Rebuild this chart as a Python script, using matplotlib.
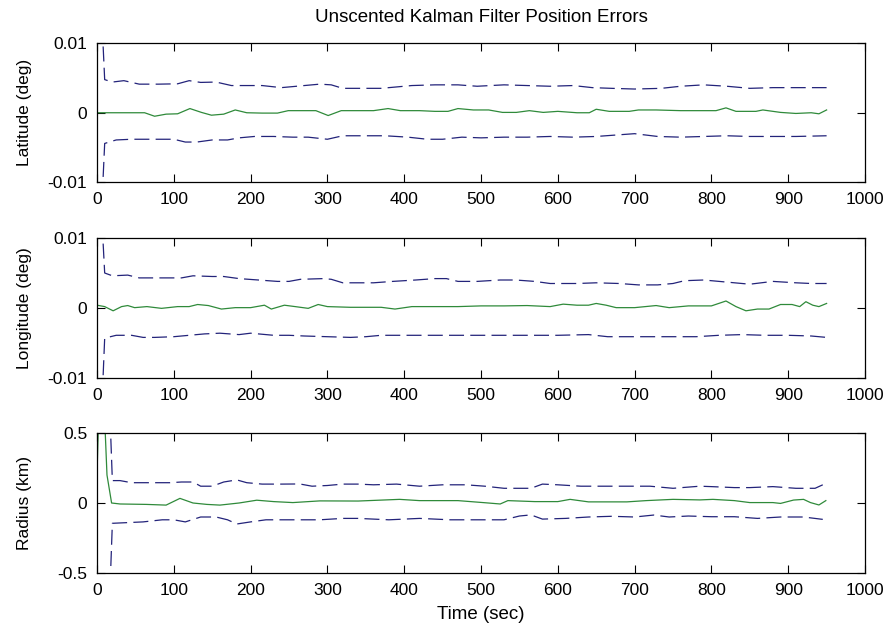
import matplotlib
matplotlib.use("Agg")
import matplotlib.pyplot as plt
import numpy as np

plt.rcParams['font.family'] = ['Liberation Sans', 'DejaVu Sans']

# ---------------- Latitude (deg) ----------------
lat_err_t = [0, 20, 40, 62, 75, 90, 105, 121, 136, 149, 165, 180, 195, 215, 235, 249,
             265, 285, 301, 318, 340, 360, 379, 395, 420, 440, 457, 470, 490, 510, 528,
             546, 563, 581, 600, 625, 641, 650, 667, 693, 705, 728, 760, 790, 806, 819,
             832, 858, 867, 890, 910, 930, 940, 950]
lat_err = [0, 0, 0, 0, -0.5, -0.2, -0.15, 0.6, 0.05, -0.35, -0.2, 0.4, 0, -0.05, -0.05, 0.3,
           0.3, 0.3, -0.4, 0.3, 0.3, 0.3, 0.6, 0.3, 0.3, 0.2, 0.2, 0.6, 0.4, 0.4, 0.05,
           0.05, 0.3, 0.05, 0.2, 0.0, 0.0, 0.5, 0.2, 0.2, 0.4, 0.4, 0.3, 0.3, 0.3, 0.7,
           0.2, 0.2, 0.4, 0.05, -0.1, 0.0, -0.15, 0.4]
lat_up_t = [8, 10, 20, 35, 55, 80, 105, 120, 135, 155, 175, 195, 215, 240, 265, 290, 305,
            320, 345, 370, 390, 410, 440, 470, 495, 530, 560, 590, 620, 645, 670, 700, 735,
            760, 790, 820, 850, 880, 910, 950]
lat_up = [9.5, 4.75, 4.4, 4.6, 4.1, 4.1, 4.15, 4.6, 4.35, 4.4, 3.9, 3.9, 3.9, 3.6, 3.85,
          4.1, 4.0, 3.5, 3.5, 3.5, 3.7, 3.9, 4.0, 4.0, 3.8, 4.0, 3.9, 3.8, 3.9, 3.6, 3.5,
          3.4, 3.5, 3.8, 4.0, 3.8, 3.5, 3.6, 3.6, 3.6]
lat_lo_t = [8, 10, 25, 45, 75, 100, 115, 130, 150, 170, 185, 205, 230, 255, 275, 300, 320,
            345, 375, 405, 430, 450, 475, 500, 530, 560, 590, 620, 650, 675, 700, 730, 760,
            790, 820, 850, 880, 910, 950]
lat_lo = [-9.2, -4.4, -3.9, -3.8, -3.8, -3.8, -4.2, -4.2, -3.9, -3.9, -3.6, -3.4, -3.4,
          -3.5, -3.5, -3.8, -3.3, -3.3, -3.3, -3.5, -3.8, -3.8, -3.5, -3.6, -3.5, -3.5,
          -3.4, -3.5, -3.4, -3.2, -3.0, -3.4, -3.5, -3.4, -3.3, -3.4, -3.4, -3.4, -3.3]

# ---------------- Longitude (deg) ----------------
lon_err_t = [0, 10, 21, 32, 40, 49, 65, 84, 105, 120, 131, 145, 162, 180, 200, 218, 227,
             244, 258, 275, 288, 300, 330, 370, 388, 410, 440, 470, 500, 530, 560, 590,
             607, 625, 640, 650, 663, 676, 700, 728, 745, 770, 800, 819, 832, 845, 860,
             875, 890, 905, 915, 923, 932, 940, 950]
lon_err = [0.4, 0.2, -0.4, 0.2, 0.35, 0.05, 0.2, -0.05, 0.2, 0.2, 0.5, 0.35, -0.15, 0.05,
           0.05, 0.4, -0.15, 0.4, 0.2, -0.05, 0.5, 0.2, 0.1, 0.1, -0.15, 0.2, 0.2, 0.2,
           0.3, 0.3, 0.35, 0.2, 0.55, 0.4, 0.4, 0.65, 0.4, 0.05, 0.05, 0.35, 0.05, 0.3,
           0.3, 1.0, 0.2, -0.4, -0.15, -0.15, 0.5, 0.5, 0.2, 0.9, 0.4, 0.2, 0.65]
lon_up_t = [8, 10, 20, 40, 55, 75, 110, 125, 150, 165, 185, 210, 235, 250, 265, 295, 305,
            320, 360, 385, 415, 440, 455, 470, 495, 525, 545, 570, 590, 625, 650, 680, 705,
            730, 750, 765, 790, 820, 850, 880, 910, 930, 950]
lon_up = [9.2, 5.0, 4.6, 4.7, 4.3, 4.3, 4.3, 4.6, 4.5, 4.5, 4.2, 4.0, 3.8, 3.8, 4.1, 4.2,
          4.1, 3.6, 3.6, 3.8, 4.0, 4.2, 4.2, 3.8, 3.8, 4.0, 4.0, 3.8, 3.5, 3.5, 3.6, 3.5,
          3.3, 3.3, 3.5, 3.9, 4.0, 3.7, 3.4, 3.8, 3.6, 3.5, 3.5]
lon_lo_t = [8, 10, 25, 45, 60, 75, 100, 120, 140, 160, 185, 200, 230, 250, 270, 300, 330,
            350, 370, 400, 440, 480, 520, 560, 600, 640, 665, 700, 740, 780, 810, 840, 870,
            900, 930, 950]
lon_lo = [-9.6, -4.3, -3.9, -3.9, -4.2, -4.2, -4.1, -3.9, -3.7, -3.6, -3.8, -3.6, -3.9,
          -3.9, -4.0, -4.1, -4.2, -4.1, -3.9, -3.9, -3.9, -3.9, -3.9, -3.9, -3.9, -3.8,
          -4.1, -4.1, -4.1, -4.1, -3.9, -3.8, -3.9, -3.9, -4.0, -4.2]

# ---------------- Radius (km) ----------------
rad_err_t = [0, 2, 10, 13, 19, 30, 64, 90, 108, 125, 143, 160, 185, 208, 230, 255, 290,
             340, 394, 420, 470, 505, 525, 535, 570, 600, 616, 640, 690, 715, 750, 785,
             802, 830, 850, 880, 890, 907, 920, 929, 940, 949]
rad_err = [0.2, 0.6, 0.6, 0.2, 0.0, -0.007, -0.01, -0.015, 0.033, 0.0, -0.01, -0.015, 0.0,
           0.02, 0.01, 0.003, 0.015, 0.014, 0.026, 0.017, 0.017, 0.002, -0.007, 0.017,
           0.01, 0.01, 0.026, 0.008, 0.008, 0.017, 0.026, 0.022, 0.026, 0.017, 0.003,
           0.003, -0.003, 0.021, 0.026, 0.003, -0.014, 0.017]
rad_up_t = [18, 20, 30, 45, 70, 95, 110, 125, 135, 150, 165, 182, 195, 215, 240, 264, 280,
            300, 320, 340, 360, 390, 420, 450, 480, 505, 530, 550, 565, 580, 600, 630, 660,
            690, 720, 750, 785, 800, 830, 850, 880, 910, 935, 945]
rad_up = [0.46, 0.16, 0.16, 0.145, 0.145, 0.145, 0.15, 0.15, 0.12, 0.12, 0.15, 0.165,
          0.145, 0.135, 0.135, 0.136, 0.12, 0.125, 0.135, 0.135, 0.13, 0.135, 0.12, 0.13,
          0.13, 0.12, 0.105, 0.105, 0.105, 0.135, 0.13, 0.12, 0.12, 0.12, 0.12, 0.105,
          0.12, 0.117, 0.11, 0.11, 0.117, 0.105, 0.105, 0.13]
rad_lo_t = [18, 20, 40, 60, 85, 100, 115, 135, 155, 170, 182, 200, 220, 250, 270, 290, 320,
            340, 380, 420, 460, 500, 530, 550, 565, 580, 610, 640, 670, 700, 725, 745, 770,
            800, 830, 860, 890, 920, 945]
rad_lo = [-0.45, -0.145, -0.14, -0.135, -0.12, -0.12, -0.135, -0.10, -0.10, -0.12, -0.15,
          -0.135, -0.12, -0.12, -0.12, -0.12, -0.11, -0.11, -0.12, -0.11, -0.12, -0.12,
          -0.12, -0.093, -0.085, -0.115, -0.11, -0.10, -0.095, -0.10, -0.086, -0.10,
          -0.093, -0.098, -0.098, -0.11, -0.10, -0.10, -0.117]

x_ticks = [0, 100, 200, 300, 400, 500, 600, 700, 800, 900, 1000]
y_ticks_deg = [-0.01, 0, 0.01]
y_ticklabels_deg = ['-0.01', '0', '0.01']
y_ticks_km = [-0.5, 0, 0.5]
y_ticklabels_km = ['-0.5', '0', '0.5']

GREEN = '#2f8a3a'
BLUE = '#23237a'
FS = 12.5

fig = plt.figure(figsize=(8.9, 6.35), dpi=100)
fig.patch.set_facecolor('white')

left, width = 97 / 890, (865 - 97) / 890
boxes = [(43, 182.5), (238, 378), (433, 573)]

panels = [
    (lat_err_t, np.array(lat_err) * 1e-3, lat_up_t, np.array(lat_up) * 1e-3,
     lat_lo_t, np.array(lat_lo) * 1e-3, 'Latitude (deg)', y_ticks_deg, y_ticklabels_deg,
     (-0.01, 0.01)),
    (lon_err_t, np.array(lon_err) * 1e-3, lon_up_t, np.array(lon_up) * 1e-3,
     lon_lo_t, np.array(lon_lo) * 1e-3, 'Longitude (deg)', y_ticks_deg, y_ticklabels_deg,
     (-0.01, 0.01)),
    (rad_err_t, rad_err, rad_up_t, rad_up, rad_lo_t, rad_lo, 'Radius (km)',
     y_ticks_km, y_ticklabels_km, (-0.5, 0.5)),
]

axes = []
for (top, bot), p in zip(boxes, panels):
    et, ev, ut, uv, lt, lv, ylab, yt, ytl, ylim = p
    ax = fig.add_axes([left, 1 - bot / 635, width, (bot - top) / 635])
    ax.plot(et, ev, color=GREEN, lw=0.9)
    ax.plot(ut, uv, color=BLUE, lw=0.9, dashes=(12, 5))
    ax.plot(lt, lv, color=BLUE, lw=0.9, dashes=(12, 5))
    ax.set_xlim(0, 1000)
    ax.set_ylim(*ylim)
    ax.set_xticks(x_ticks)
    ax.set_xticklabels([str(v) for v in x_ticks])
    ax.set_yticks(yt)
    ax.set_yticklabels(ytl)
    ax.tick_params(direction='in', top=True, right=True, length=6, width=0.8,
                   labelsize=FS, pad=7, colors='black')
    for s in ax.spines.values():
        s.set_linewidth(0.9)
    ax.set_ylabel(ylab, fontsize=FS)
    ax.yaxis.set_label_coords(-0.085, 0.5)
    axes.append(ax)

axes[0].set_title('Unscented Kalman Filter Position Errors', fontsize=13.5, pad=15)
axes[2].set_xlabel('Time (sec)', fontsize=13.5, labelpad=6)

fig.savefig('out.png', dpi=100, facecolor='white')
